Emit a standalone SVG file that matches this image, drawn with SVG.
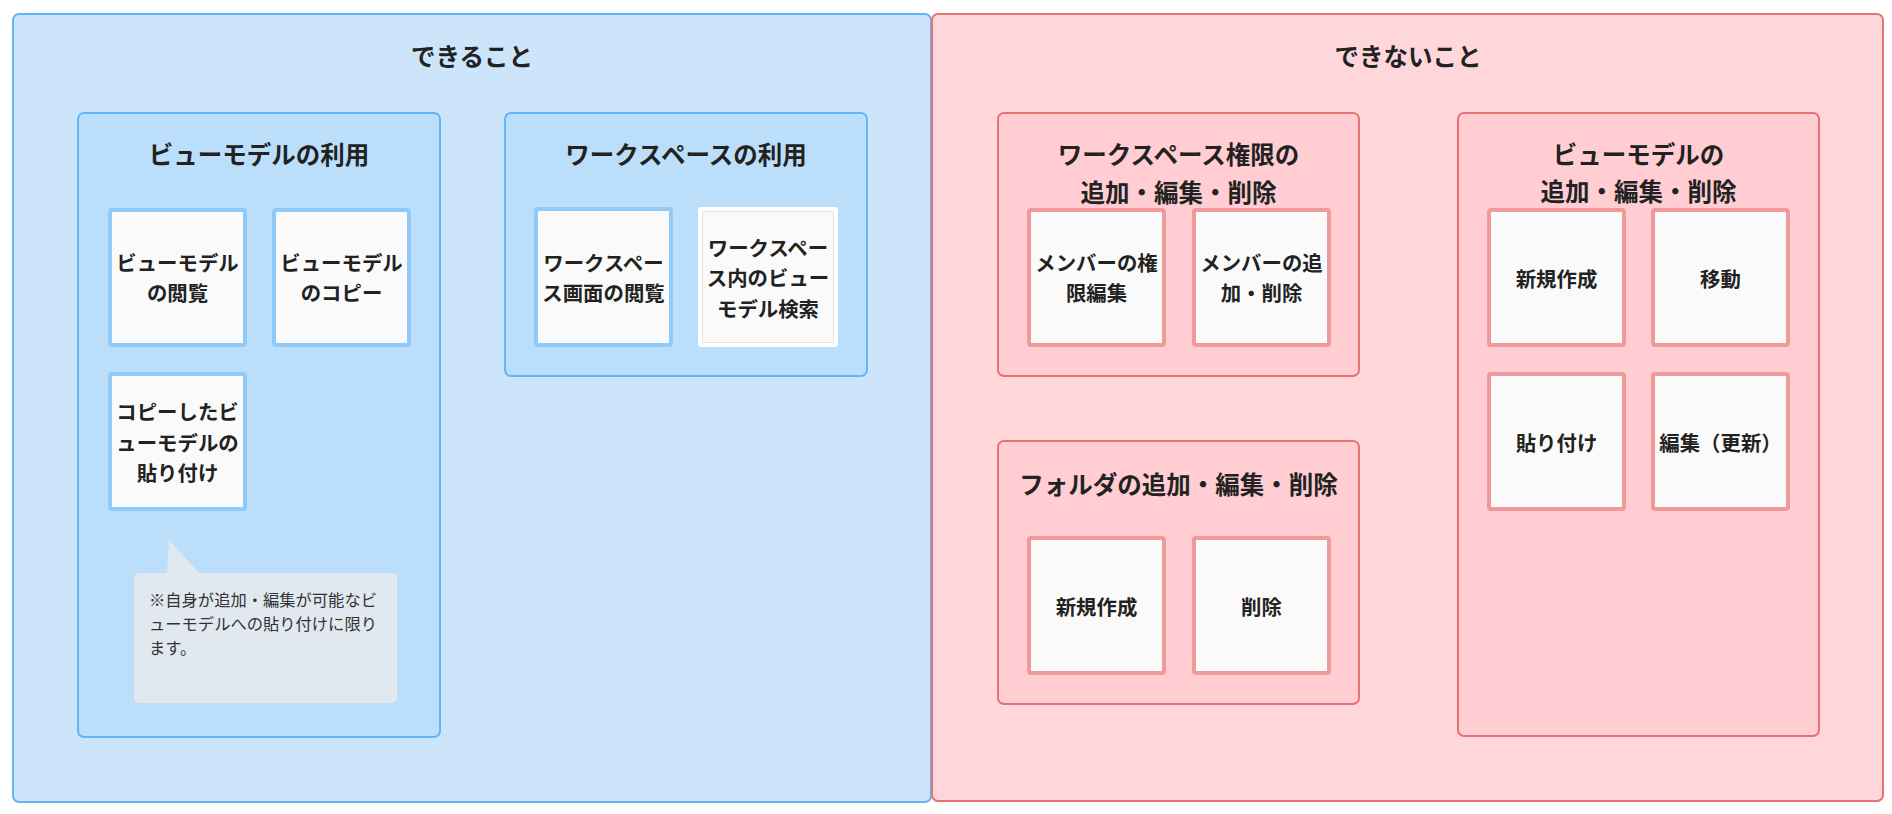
<svg xmlns="http://www.w3.org/2000/svg" width="1892" height="814" viewBox="0 0 1892 814">
<style>
text{font-family:"Noto Sans CJK JP","Noto Sans CJK SC",sans-serif;fill:#222}
.t{font-size:24.5px;font-weight:bold;text-anchor:middle;dominant-baseline:central}
.c{font-size:20.4px;font-weight:bold;text-anchor:middle;dominant-baseline:central}
.n{font-size:16.3px;fill:#333}
.ob{fill:#CCE5FA;stroke:#64B5F6;stroke-width:2}
.or{fill:#FFD7DB;stroke:#E57373;stroke-width:2}
.gb{fill:#BBDEFB;stroke:#64B5F6;stroke-width:2}
.gr{fill:#FFCDD2;stroke:#E57373;stroke-width:2}
.cb{fill:#FAFAFA;stroke:#90CAF9;stroke-width:4}
.cr{fill:#FAFAFA;stroke:#EF9A9A;stroke-width:4}
.cw{fill:#FAFAFA;stroke:#FFFFFF;stroke-width:4}
</style>
<g id="can">
<rect class="ob" x="13" y="14" width="918" height="788" rx="6"/>
<text class="t" x="472" y="55">できること</text>
</g>
<g id="cannot">
<rect class="or" x="932" y="14" width="951" height="787" rx="6"/>
<text class="t" x="1408" y="55">できないこと</text>
</g>
<g id="viewmodel-use">
<rect class="gb" x="78" y="113" width="362" height="624" rx="6"/>
<text class="t" x="259" y="153">ビューモデルの利用</text>
</g>
<g id="vm-view">
<rect class="cb" x="110" y="210" width="135" height="135" rx="2"/>
<text class="c" x="177.5" y="262">ビューモデル</text>
<text class="c" x="177.5" y="292">の閲覧</text>
</g>
<g id="vm-copy">
<rect class="cb" x="274" y="210" width="135" height="135" rx="2"/>
<text class="c" x="341.5" y="262">ビューモデル</text>
<text class="c" x="341.5" y="292">のコピー</text>
</g>
<g id="vm-paste">
<rect class="cb" x="110" y="374" width="135" height="135" rx="2"/>
<text class="c" x="177.5" y="411">コピーしたビ</text>
<text class="c" x="177.5" y="441.5">ューモデルの</text>
<text class="c" x="177.5" y="472">貼り付け</text>
</g>
<g id="note">
<polygon points="167,575 169,540 201,575" fill="#E1E8F0"/>
<rect x="134" y="573" width="263" height="130" rx="5" fill="#E1E8F0"/>
<text class="n" x="149" y="606">※自身が追加・編集が可能なビ</text>
<text class="n" x="149" y="630">ューモデルへの貼り付けに限り</text>
<text class="n" x="149" y="654">ます。</text>
</g>
<g id="workspace-use">
<rect class="gb" x="505" y="113" width="362" height="263" rx="6"/>
<text class="t" x="686" y="153">ワークスペースの利用</text>
</g>
<g id="ws-view">
<rect class="cb" x="536" y="209" width="135" height="136" rx="2"/>
<text class="c" x="603.5" y="262">ワークスペー</text>
<text class="c" x="603.5" y="292">ス画面の閲覧</text>
</g>
<g id="ws-search">
<rect class="cw" x="700" y="209" width="136" height="136" rx="1"/>
<rect x="702.5" y="211.5" width="131" height="131" rx="2" fill="none" stroke="#E3E3E3" stroke-width="1"/>
<text class="c" x="768" y="247">ワークスペー</text>
<text class="c" x="768" y="277">ス内のビュー</text>
<text class="c" x="768" y="308">モデル検索</text>
</g>
<g id="ws-perm">
<rect class="gr" x="998" y="113" width="361" height="263" rx="6"/>
<text class="t" x="1178.5" y="153">ワークスペース権限の</text>
<text class="t" x="1178.5" y="191">追加・編集・削除</text>
</g>
<g id="member-perm">
<rect class="cr" x="1029" y="210" width="135" height="135" rx="2"/>
<text class="c" x="1096.5" y="262">メンバーの権</text>
<text class="c" x="1096.5" y="292">限編集</text>
</g>
<g id="member-add">
<rect class="cr" x="1194" y="210" width="135" height="135" rx="2"/>
<text class="c" x="1261.5" y="262">メンバーの追</text>
<text class="c" x="1261.5" y="292">加・削除</text>
</g>
<g id="folder">
<rect class="gr" x="998" y="441" width="361" height="263" rx="6"/>
<text class="t" x="1178.5" y="483">フォルダの追加・編集・削除</text>
</g>
<g id="folder-new">
<rect class="cr" x="1029" y="538" width="135" height="135" rx="2"/>
<text class="c" x="1096.5" y="606">新規作成</text>
</g>
<g id="folder-del">
<rect class="cr" x="1194" y="538" width="135" height="135" rx="2"/>
<text class="c" x="1261.5" y="606">削除</text>
</g>
<g id="vm-edit">
<rect class="gr" x="1458" y="113" width="361" height="623" rx="6"/>
<text class="t" x="1638.5" y="153">ビューモデルの</text>
<text class="t" x="1638.5" y="190">追加・編集・削除</text>
</g>
<g id="vm-new">
<rect class="cr" x="1489" y="210" width="135" height="135" rx="2"/>
<text class="c" x="1556.5" y="278">新規作成</text>
</g>
<g id="vm-move">
<rect class="cr" x="1653" y="210" width="135" height="135" rx="2"/>
<text class="c" x="1720.5" y="278">移動</text>
</g>
<g id="vm-paste2">
<rect class="cr" x="1489" y="374" width="135" height="135" rx="2"/>
<text class="c" x="1556.5" y="442">貼り付け</text>
</g>
<g id="vm-update">
<rect class="cr" x="1653" y="374" width="135" height="135" rx="2"/>
<text class="c" x="1720.5" y="442">編集（更新）</text>
</g>
<g id="connectors"/>
</svg>
